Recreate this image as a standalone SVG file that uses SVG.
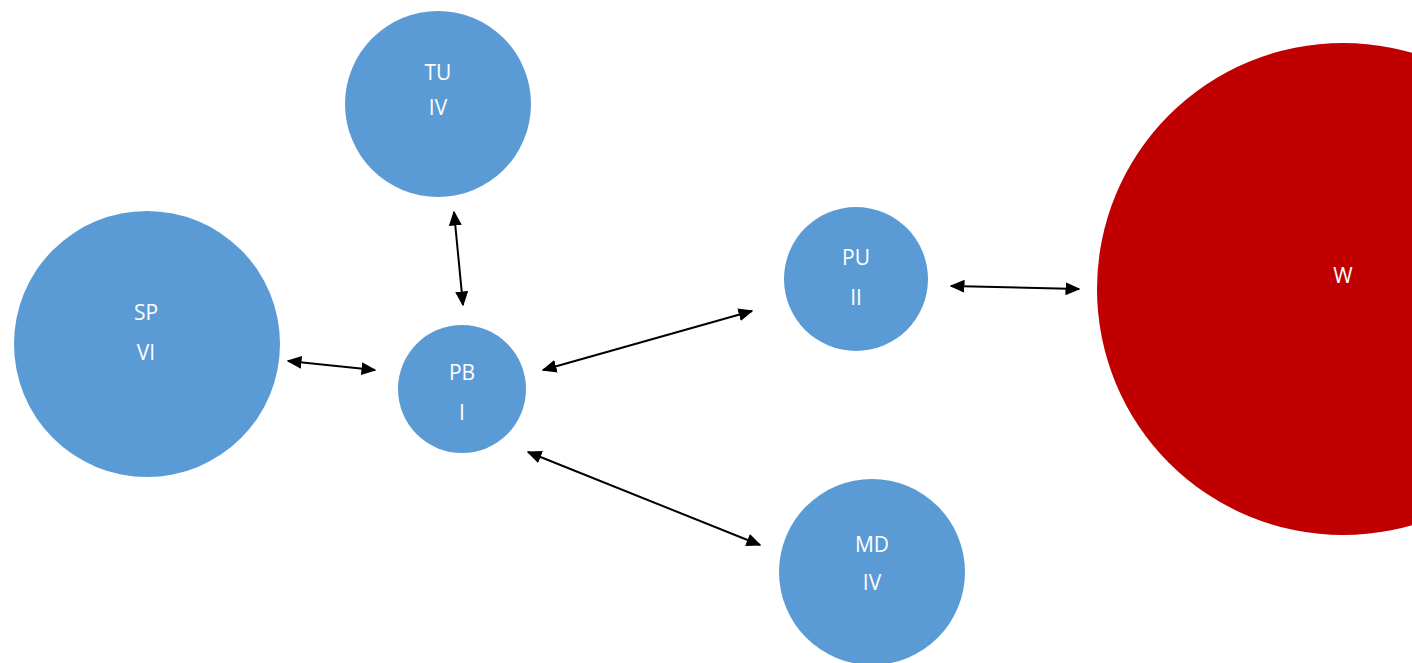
<svg xmlns="http://www.w3.org/2000/svg" width="1412" height="663" viewBox="0 0 1412 663">
<defs>
<marker id="ah" viewBox="0 0 10 10" refX="9" refY="5" markerWidth="7.5" markerHeight="6.5" orient="auto-start-reverse" markerUnits="strokeWidth" preserveAspectRatio="none">
<path d="M0,0 L10,5 L0,10 z" fill="#000"/>
</marker>
<style>
.n{fill:#5b9bd5;}
.w{fill:#c00000;}
.t{font-family:"Open Sans","Liberation Sans",sans-serif;font-size:21px;fill:#fff;text-anchor:middle;}
.c{stroke:#000;stroke-width:2;fill:none;marker-start:url(#ah);marker-end:url(#ah);}
</style>
</defs>
<rect width="1412" height="663" fill="#fff"/>
<g id="W"><circle class="w" cx="1343" cy="289" r="246"/><text class="t" x="1343" y="283">W</text></g>
<g id="TU"><circle class="n" cx="438" cy="104" r="93"/><text class="t" x="438" y="80">TU</text><text class="t" x="438" y="115">IV</text></g>
<g id="SP"><circle class="n" cx="147" cy="344" r="133"/><text class="t" x="146" y="320">SP</text><text class="t" x="146" y="360">VI</text></g>
<g id="PB"><circle class="n" cx="462" cy="389" r="64"/><text class="t" x="462" y="380">PB</text><text class="t" x="462" y="420">I</text></g>
<g id="PU"><circle class="n" cx="856" cy="279" r="72"/><text class="t" x="856" y="265">PU</text><text class="t" x="856" y="305">II</text></g>
<g id="MD"><circle class="n" cx="872" cy="572" r="93"/><text class="t" x="872" y="552">MD</text><text class="t" x="872" y="590">IV</text></g>
<g id="connectors">
<line class="c" x1="454" y1="212" x2="463" y2="305"/>
<line class="c" x1="288" y1="361" x2="375" y2="370"/>
<line class="c" x1="543" y1="370" x2="752" y2="311"/>
<line class="c" x1="528" y1="452" x2="760" y2="545"/>
<line class="c" x1="951" y1="286" x2="1079" y2="289"/>
</g>
</svg>
